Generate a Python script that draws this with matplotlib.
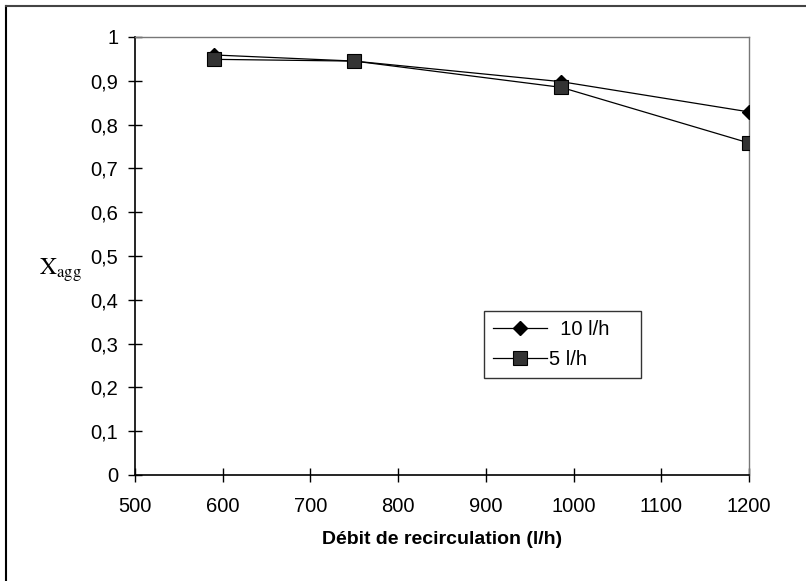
import matplotlib.pyplot as plt
from matplotlib.lines import Line2D

plt.rcParams['font.family'] = ['Liberation Sans', 'DejaVu Sans']
plt.rcParams['mathtext.fontset'] = 'stix'

# data
debit = [590, 750, 986, 1200]
x_10lh = [0.959, 0.945, 0.898, 0.829]
x_5lh = [0.949, 0.945, 0.885, 0.758]
xticks = [500, 600, 700, 800, 900, 1000, 1100, 1200]
yticks = [0, 0.1, 0.2, 0.3, 0.4, 0.5, 0.6, 0.7, 0.8, 0.9, 1]
ytick_labels = ['0', '0,1', '0,2', '0,3', '0,4', '0,5', '0,6', '0,7', '0,8', '0,9', '1']

fig = plt.figure(figsize=(8.06, 5.81), dpi=100)
ax = fig.add_axes([135/806, 1-475/581, (749-135)/806, (475-37)/581])

ax.plot(debit, x_10lh, color='black', lw=0.9, marker='D', ms=7.5,
        mfc='black', mec='black', label='  10 l/h    ', zorder=3)
ax.plot(debit, x_5lh, color='black', lw=0.9, marker='s', ms=10,
        mfc='#333333', mec='black', mew=0.8, label='5 l/h', zorder=3)

ax.set_xlim(500, 1200)
ax.set_ylim(0, 1)
ax.set_xticks(xticks)
ax.set_yticks(yticks)
ax.set_yticklabels(ytick_labels)
ax.tick_params(direction='inout', length=10, width=1, labelsize=14.5, color='black')
ax.tick_params(axis='x', pad=11)
ax.tick_params(axis='y', pad=7)

for s in ['left', 'bottom']:
    ax.spines[s].set_linewidth(1.2)
    ax.spines[s].set_color('black')
for s in ['top', 'right']:
    ax.spines[s].set_color('#777777')
    ax.spines[s].set_linewidth(1.0)
    ax.spines[s].set_linestyle((0, (2, 1)))

ax.set_xlabel('Débit de recirculation (l/h)', fontsize=14, fontweight='bold', labelpad=11)
fig.text(0.048, 0.535, r'$\mathrm{X}_{\mathrm{agg}}$', fontsize=17, ha='left', va='center')

leg = ax.legend(loc='upper left', bbox_to_anchor=((484-135)/614, (475-311)/438),
                fontsize=14.5, frameon=True, fancybox=False, edgecolor='black',
                handlelength=2.7, handletextpad=0.1, borderpad=0.45, labelspacing=0.55,
                borderaxespad=0)
leg.get_frame().set_linewidth(1.0)

# outer frame of the figure
fig.add_artist(Line2D([6/806, 6/806], [0, 1-6/581], color='black', lw=1.5, transform=fig.transFigure))
fig.add_artist(Line2D([6/806, 1], [1-6/581, 1-6/581], color='#444444', lw=1.5, transform=fig.transFigure))

fig.savefig('out.png', dpi=100)
